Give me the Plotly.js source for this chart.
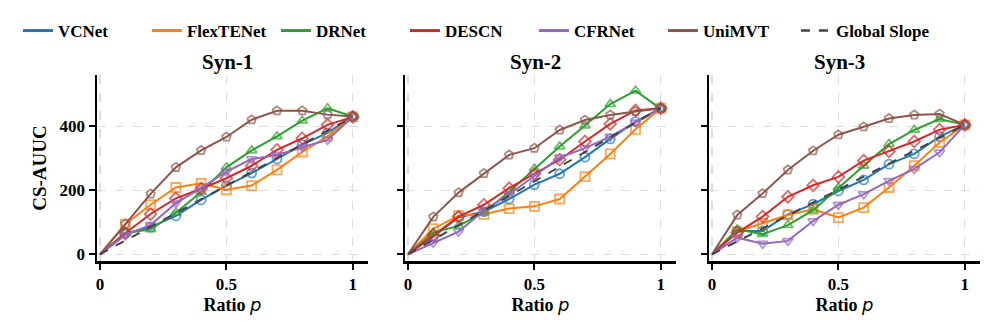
<!DOCTYPE html>
<html>
<head>
<meta charset="utf-8">
<script src="https://cdn.plot.ly/plotly-3.0.1.min.js"></script>
<style>
  body { margin: 0; background: #fff; }
  #chart { width: 996px; height: 329px; }
</style>
</head>
<body>
<div id="chart"></div>
<script>
// ratio p
var ratio = [0, 0.1, 0.2, 0.3, 0.4, 0.5, 0.6, 0.7, 0.8, 0.9, 1.0];

var models = ['VCNet', 'FlexTENet', 'DRNet', 'DESCN', 'CFRNet', 'UniMVT'];
var panelNames = ['Syn-1', 'Syn-2', 'Syn-3'];

// Syn-1
var syn1VCNet     = [0, 65, 85, 120, 170, 215, 254, 298, 343, 380, 432];
var syn1FlexTENet = [0, 94, 155, 209, 222, 202, 215, 264, 320, 369, 430];
var syn1DRNet     = [0, 66, 78, 130, 195, 272, 325, 369, 418, 457, 431];
var syn1DESCN     = [0, 66, 126, 175, 205, 238, 277, 327, 363, 405, 430];
var syn1CFRNet    = [0, 60, 92, 160, 207, 259, 298, 311, 335, 358, 430];
var syn1UniMVT    = [0, 95, 189, 272, 325, 367, 421, 449, 449, 437, 431];

// Syn-2
var syn2VCNet     = [0, 55, 116, 133, 173, 218, 252, 304, 361, 415, 457];
var syn2FlexTENet = [0, 80, 121, 125, 143, 150, 173, 243, 314, 391, 457];
var syn2DRNet     = [0, 68, 89, 131, 196, 268, 337, 403, 470, 512, 455];
var syn2DESCN     = [0, 60, 118, 155, 207, 252, 296, 353, 408, 450, 457];
var syn2CFRNet    = [0, 36, 71, 136, 188, 245, 303, 332, 368, 413, 457];
var syn2UniMVT    = [0, 117, 193, 253, 311, 332, 389, 420, 436, 447, 457];

// Syn-3
var syn3VCNet     = [0, 73, 73, 125, 157, 198, 233, 282, 314, 368, 405];
var syn3FlexTENet = [0, 71, 97, 123, 141, 115, 146, 209, 277, 350, 405];
var syn3DRNet     = [0, 78, 63, 91, 138, 209, 277, 345, 389, 423, 405];
var syn3DESCN     = [0, 68, 118, 180, 216, 242, 293, 322, 353, 390, 405];
var syn3CFRNet    = [0, 52, 33, 42, 104, 155, 188, 230, 267, 319, 405];
var syn3UniMVT    = [0, 123, 190, 264, 324, 374, 399, 425, 436, 439, 405];

// global slope end points
var slopeX = [0, 1];
var slopeEnd = [430, 457, 405];

var xTicks = [0, 0.5, 1];
var xTickText = ['0', '0.5', '1'];
var yTicks = [0, 200, 400];

var panels = [
  [syn1VCNet, syn1FlexTENet, syn1DRNet, syn1DESCN, syn1CFRNet, syn1UniMVT],
  [syn2VCNet, syn2FlexTENet, syn2DRNet, syn2DESCN, syn2CFRNet, syn2UniMVT],
  [syn3VCNet, syn3FlexTENet, syn3DRNet, syn3DESCN, syn3CFRNet, syn3UniMVT]
];

var colors = ['#1f77b4', '#ff7f0e', '#2ca02c', '#d62728', '#9467bd', '#8c564b'];
var symbols = ['circle-open', 'square-open', 'triangle-up-open', 'diamond-open', 'triangle-down-open', 'pentagon-open'];
var serif = 'Liberation Serif, Times New Roman, serif';

var data = [];
panels.forEach(function (series, p) {
  var xa = p === 0 ? 'x' : 'x' + (p + 1);
  var ya = p === 0 ? 'y' : 'y' + (p + 1);
  series.forEach(function (vals, i) {
    data.push({
      x: ratio, y: vals, xaxis: xa, yaxis: ya,
      type: 'scatter', mode: 'lines+markers',
      name: models[i], showlegend: false,
      line: {color: colors[i], width: 2},
      marker: {symbol: symbols[i], color: colors[i],
        size: ratio.map(function (r) { return r === 0 ? 0 : 9; }),
        line: {color: colors[i], width: 1.8}},
      cliponaxis: false
    });
  });
  data.push({
    x: slopeX, y: [0, slopeEnd[p]], xaxis: xa, yaxis: ya,
    type: 'scatter', mode: 'lines',
    name: 'Global Slope', showlegend: false,
    line: {color: '#444444', width: 2, dash: 'dash'}
  });
});

// legend entries: lines only, as in the original figure
models.forEach(function (m, i) {
  data.push({x: [null], y: [null], type: 'scatter', mode: 'lines', name: m,
    line: {color: colors[i], width: 3}});
});
data.push({x: [null], y: [null], type: 'scatter', mode: 'lines', name: 'Global Slope',
  legend: 'legend2', line: {color: '#444444', width: 2.5, dash: 'dash'}});

var xDomains = [[97 / 996, 368 / 996], [405 / 996, 676 / 996], [709 / 996, 980 / 996]];
var yDomain = [1 - 261 / 329, 1 - 75 / 329];

var legendFont = {family: serif, size: 17, color: '#000', weight: 'bold'};

var layout = {
  width: 996, height: 329,
  margin: {l: 0, r: 0, t: 0, b: 0},
  paper_bgcolor: '#fff', plot_bgcolor: '#fff',
  font: {family: serif, color: '#000', size: 16},
  showlegend: true,
  legend: {
    orientation: 'h', x: 0.018, xanchor: 'left', y: 1 - 31 / 329, yanchor: 'middle',
    font: legendFont,
    entrywidth: 84, entrywidthmode: 'pixels', itemwidth: 30,
    traceorder: 'normal', bgcolor: 'rgba(0,0,0,0)'
  },
  legend2: {
    orientation: 'h', x: 0.018 + 778 / 996, xanchor: 'left', y: 1 - 31 / 329, yanchor: 'middle',
    font: legendFont, itemwidth: 30, bgcolor: 'rgba(0,0,0,0)'
  },
  annotations: []
};

for (var p = 0; p < 3; p++) {
  var sfx = p === 0 ? '' : String(p + 1);
  layout['xaxis' + sfx] = {
    domain: xDomains[p], anchor: 'y' + sfx, range: [-0.012, 1.06],
    tickvals: xTicks, ticktext: xTickText,
    ticks: 'outside', ticklen: 6, tickwidth: 2, tickcolor: '#000',
    showline: true, linecolor: '#000', linewidth: 2.5,
    showgrid: true, gridcolor: '#dddddd', griddash: 'dash', gridwidth: 1.2,
    zeroline: false,
    tickfont: {family: serif, size: 17, weight: 'bold'},
    title: {text: 'Ratio <span style="font-family:DejaVu Sans;font-weight:normal"><i>p</i></span>',
      font: {family: serif, size: 18, weight: 'bold'}, standoff: 0}
  };
  layout['yaxis' + sfx] = {
    domain: yDomain, anchor: 'x' + sfx, range: [-21, 561],
    tickvals: yTicks, showticklabels: p === 0,
    ticks: 'outside', ticklen: 6, tickwidth: 2, tickcolor: '#000',
    showline: true, linecolor: '#000', linewidth: 2.5,
    showgrid: true, gridcolor: '#dddddd', griddash: 'dash', gridwidth: 1.2,
    zeroline: false,
    tickfont: {family: serif, size: 17, weight: 'bold'},
    title: p === 0 ? {text: 'CS-AUUC', font: {family: serif, size: 19, weight: 'bold'}, standoff: 8} : {text: ''}
  };
  layout.annotations.push({
    text: '<b>' + panelNames[p] + '</b>', xref: 'paper', yref: 'paper',
    x: (xDomains[p][0] + xDomains[p][1]) / 2 - 0.005, y: 1 - 62 / 329,
    xanchor: 'center', yanchor: 'middle', showarrow: false,
    font: {family: serif, size: 21, color: '#000'}
  });
}

Plotly.newPlot('chart', data, layout, {displayModeBar: false, staticPlot: true});
</script>
</body>
</html>
